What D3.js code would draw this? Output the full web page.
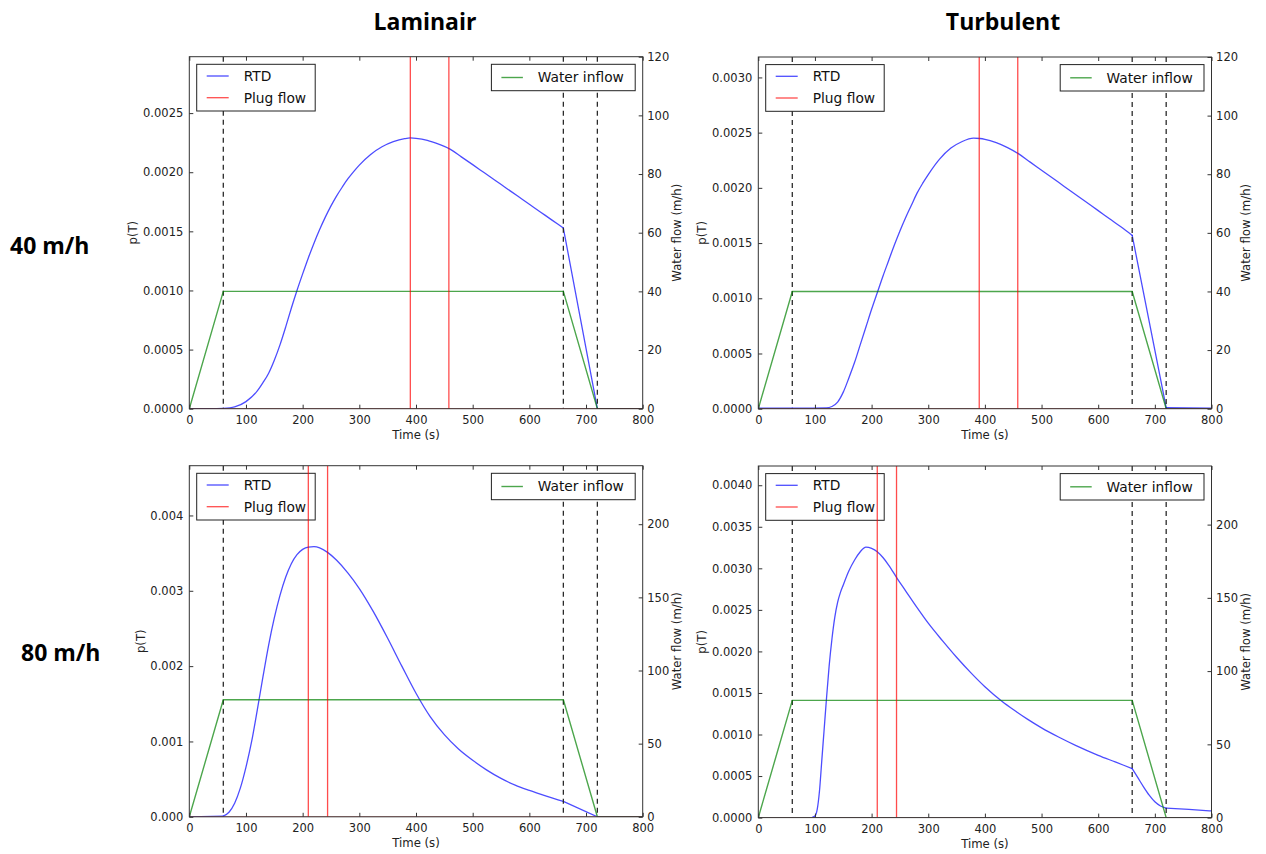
<!DOCTYPE html>
<html><head><meta charset="utf-8">
<script src="https://cdn.jsdelivr.net/npm/d3@7"></script>
<style>body{margin:0;background:#fff} svg{display:block}</style>
</head><body><svg id="c" width="1266" height="854"></svg>
<script>
// ---------------- data ----------------
const colTitles = ["Laminair", "Turbulent"];
const rowLabels = ["40 m/h", "80 m/h"];
const timeTicks = [0, 100, 200, 300, 400, 500, 600, 700, 800];
const eventTimes = [60, 660, 720];
const flowTime = [0, 60, 660, 720, 800];
const flow40 = [0, 40, 40, 0, 0];
const flow80 = [0, 80, 80, 0, 0];
const plug40 = [390, 458];
const plug80 = [210, 244];

const rtdLam40T = [0, 40, 60, 80, 100, 120, 130, 140, 150, 160, 170, 180, 190, 200, 210, 220, 230, 240, 250, 260, 270, 280, 290, 300, 320, 340, 360, 380, 390, 400, 420, 440, 460, 480, 500, 520, 540, 560, 580, 600, 620, 640, 660, 720, 800];
const rtdLam40P = [0, 0, 0.000002, 0.000015, 0.00006, 0.00015, 0.00022, 0.0003, 0.00041, 0.00054, 0.00069, 0.00085, 0.001, 0.00114, 0.001275, 0.0014, 0.001515, 0.00162, 0.001715, 0.0018, 0.001875, 0.001945, 0.002005, 0.00206, 0.00215, 0.002215, 0.002258, 0.002284, 0.00229, 0.002287, 0.00227, 0.002237, 0.002195, 0.00213, 0.002064, 0.001997, 0.00193, 0.001863, 0.001796, 0.001729, 0.001662, 0.001595, 0.001528, 0, 0];

const rtdTurb40T = [0, 60, 120, 130, 140, 150, 160, 170, 180, 190, 200, 210, 220, 230, 240, 250, 260, 270, 280, 290, 300, 320, 340, 360, 380, 391, 400, 420, 440, 459, 480, 500, 520, 540, 560, 580, 600, 620, 640, 660, 720, 800];
const rtdTurb40P = [0.000005, 0.000005, 0.000008, 0.00002, 0.00006, 0.00015, 0.00028, 0.00042, 0.00058, 0.00074, 0.0009, 0.00105, 0.0012, 0.00134, 0.00148, 0.00161, 0.00173, 0.00184, 0.00195, 0.00204, 0.00212, 0.00226, 0.00236, 0.00242, 0.00245, 0.002447, 0.00244, 0.00241, 0.002365, 0.00231, 0.002233, 0.00216, 0.002087, 0.002013, 0.00194, 0.001867, 0.001794, 0.00172, 0.001647, 0.00157, 0.00001, 0.000005];

const rtdLam80T = [0, 60, 70, 80, 90, 100, 110, 120, 130, 140, 150, 160, 170, 180, 190, 200, 210, 220, 230, 244, 260, 280, 300, 325, 350, 375, 400, 425, 450, 475, 500, 525, 550, 575, 600, 630, 660, 720, 800];
const rtdLam80P = [0, 0.00001, 0.00006, 0.00018, 0.00038, 0.00066, 0.001, 0.00142, 0.00186, 0.00228, 0.00264, 0.00294, 0.00318, 0.00336, 0.00348, 0.00355, 0.00358, 0.003585, 0.00357, 0.00351, 0.003405, 0.003235, 0.00303, 0.00272, 0.00237, 0.002, 0.00164, 0.00133, 0.00109, 0.0009, 0.00075, 0.00062, 0.00051, 0.00042, 0.00035, 0.000275, 0.000205, 0, 0];

const rtdTurb80T = [0, 96, 100, 104, 108, 112, 116, 120, 125, 130, 135, 140, 145, 150, 160, 170, 180, 190, 200, 210, 220, 230, 245, 260, 280, 300, 325, 350, 375, 400, 430, 450, 475, 500, 530, 560, 600, 630, 660, 670, 680, 690, 700, 710, 720, 760, 800];
const rtdTurb80P = [0.000005, 0.000005, 0.00002, 0.0001, 0.00032, 0.00068, 0.00104, 0.0014, 0.00182, 0.00215, 0.00241, 0.00259, 0.00271, 0.0028, 0.00297, 0.0031, 0.0032, 0.003255, 0.00324, 0.0032, 0.00313, 0.00304, 0.00288, 0.00273, 0.00253, 0.00234, 0.00213, 0.00193, 0.001745, 0.001575, 0.0014, 0.0013, 0.001185, 0.00108, 0.00097, 0.00087, 0.00075, 0.00067, 0.00059, 0.00048, 0.00037, 0.00027, 0.00019, 0.00014, 0.000115, 0.0001, 0.00008];

const leftTicksLam40 = [0, 0.0005, 0.001, 0.0015, 0.002, 0.0025];
const leftTicksTurb40 = [0, 0.0005, 0.001, 0.0015, 0.002, 0.0025, 0.003];
const leftTicksLam80 = [0, 0.001, 0.002, 0.003, 0.004];
const leftTicksTurb80 = [0, 0.0005, 0.001, 0.0015, 0.002, 0.0025, 0.003, 0.0035, 0.004];
const rightTicks40 = [0, 20, 40, 60, 80, 100, 120];
const rightTicks80 = [0, 50, 100, 150, 200];

// ---------------- layout ----------------
const FONT = "DejaVu Sans";
const C_BLUE = "#0000ff", C_RED = "#ff0000", C_GREEN = "#008000";
const panels = [
  {x0: 189.3, x1: 642.7, y0: 56.7, y1: 408.7, t: rtdLam40T, p: rtdLam40P, flow: flow40, plug: plug40, lt: leftTicksLam40, lf: ".4f", rt: rightTicks40, ylabOff: 57},
  {x0: 758.3, x1: 1211.5, y0: 57, y1: 408.7, t: rtdTurb40T, p: rtdTurb40P, flow: flow40, plug: plug40, lt: leftTicksTurb40, lf: ".4f", rt: rightTicks40, ylabOff: 57},
  {x0: 189.3, x1: 642.7, y0: 465.7, y1: 816.8, t: rtdLam80T, p: rtdLam80P, flow: flow80, plug: plug80, lt: leftTicksLam80, lf: ".3f", rt: rightTicks80, ylabOff: 48.5},
  {x0: 758.3, x1: 1211.5, y0: 466, y1: 817.6, t: rtdTurb80T, p: rtdTurb80P, flow: flow80, plug: plug80, lt: leftTicksTurb80, lf: ".4f", rt: rightTicks80, ylabOff: 57}
];

const svg = d3.select("#c");
svg.append("rect").attr("width", 1266).attr("height", 854).attr("fill", "#fff");

// titles
const titleX = [425, 1003];
colTitles.forEach((s, i) => {
  svg.append("text").attr("x", titleX[i]).attr("y", 30).attr("text-anchor", "middle")
    .attr("font-family", "Open Sans").attr("font-weight", 700).attr("font-size", 23)
    .attr("fill", "#000").text(s);
});
const rowPos = [[10, 254], [21, 661]];
rowLabels.forEach((s, i) => {
  svg.append("text").attr("x", rowPos[i][0]).attr("y", rowPos[i][1])
    .attr("font-family", "Open Sans").attr("font-weight", 700).attr("font-size", 23)
    .attr("fill", "#000").text(s);
});

panels.forEach((P, idx) => {
  const W = P.x1 - P.x0, H = P.y1 - P.y0;
  const g = svg.append("g").attr("transform", `translate(${P.x0},${P.y0})`);
  const x = d3.scaleLinear().domain([0, 800]).range([0, W]);
  const yL = d3.scaleLinear().domain([0, 1.3 * d3.max(P.p)]).range([H, 0]);
  const yR = d3.scaleLinear().domain([0, 3 * d3.max(P.flow)]).range([H, 0]);

  const cid = "clip" + idx;
  g.append("clipPath").attr("id", cid).append("rect").attr("width", W).attr("height", H);
  const plot = g.append("g").attr("clip-path", `url(#${cid})`);

  // RTD, split into pieces at the inflow change times (sharp kinks there)
  const rtd = P.t.map((t, i) => [t, P.p[i]]);
  const bounds = [0, ...eventTimes, 800];
  const pieces = d3.pairs(bounds).map(([a, b]) => rtd.filter(d => d[0] >= a && d[0] <= b)).filter(s => s.length > 1);
  const rtdLine = d3.line().x(d => x(d[0])).y(d => yL(d[1])).curve(d3.curveMonotoneX);
  plot.selectAll("path.rtd").data(pieces).join("path").attr("class", "rtd")
    .attr("d", rtdLine)
    .attr("fill", "none").attr("stroke", C_BLUE).attr("stroke-opacity", 0.7).attr("stroke-width", 1.3)
    .attr("stroke-linejoin", "round").attr("stroke-linecap", "round");

  // dashed event lines
  plot.selectAll("line.ev").data(eventTimes).join("line").attr("class", "ev")
    .attr("x1", d => x(d)).attr("x2", d => x(d)).attr("y1", 0).attr("y2", H)
    .attr("stroke", "#2a2a2a").attr("stroke-width", 1.3).attr("stroke-dasharray", "5,4");

  // legend 1
  const L1 = g.append("g").attr("transform", "translate(7.4,7.6)");
  L1.append("rect").attr("width", 118.5).attr("height", 46.7).attr("fill", "#fff").attr("stroke", "#222").attr("stroke-width", 1);
  [["RTD", C_BLUE, 11.7], ["Plug flow", C_RED, 33.4]].forEach(e => {
    L1.append("line").attr("x1", 10).attr("x2", 32).attr("y1", e[2]).attr("y2", e[2])
      .attr("stroke", e[1]).attr("stroke-opacity", 0.7).attr("stroke-width", 1.3);
    L1.append("text").attr("x", 47).attr("y", e[2]).attr("dy", "0.36em")
      .attr("font-family", FONT).attr("font-size", 13.8).attr("fill", "#111").text(e[0]);
  });

  // water inflow (second axis)
  const fl = flowTime.map((t, i) => [t, P.flow[i]]);
  plot.append("path").datum(fl)
    .attr("d", d3.line().x(d => x(d[0])).y(d => yR(d[1])))
    .attr("fill", "none").attr("stroke", C_GREEN).attr("stroke-opacity", 0.7).attr("stroke-width", 1.4);

  // plug flow
  const top = g.append("g").attr("clip-path", `url(#${cid})`);
  top.append("line").attr("x1", x(0)).attr("x2", x(800)).attr("y1", yL(0)).attr("y2", yL(0))
    .attr("stroke", C_RED).attr("stroke-opacity", 0.55).attr("stroke-width", 1.3);
  top.selectAll("line.pl").data(P.plug).join("line").attr("class", "pl")
    .attr("x1", d => x(d)).attr("x2", d => x(d)).attr("y1", 0).attr("y2", H)
    .attr("stroke", C_RED).attr("stroke-opacity", 0.7).attr("stroke-width", 1.3);

  // legend 2
  const L2 = g.append("g").attr("transform", `translate(${W - 7.5 - 143.8},7.6)`);
  L2.append("rect").attr("width", 143.8).attr("height", 26.4).attr("fill", "#fff").attr("stroke", "#222").attr("stroke-width", 1);
  L2.append("line").attr("x1", 10).attr("x2", 31.5).attr("y1", 13.2).attr("y2", 13.2)
    .attr("stroke", C_GREEN).attr("stroke-opacity", 0.7).attr("stroke-width", 1.4);
  L2.append("text").attr("x", 46.3).attr("y", 13.2).attr("dy", "0.36em")
    .attr("font-family", FONT).attr("font-size", 13.8).attr("fill", "#111").text("Water inflow");

  // frame
  g.append("rect").attr("width", W).attr("height", H).attr("fill", "none").attr("stroke", "#333").attr("stroke-width", 1);

  const styleAxis = a => {
    a.select(".domain").remove();
    a.selectAll(".tick line").attr("stroke", "#333");
    a.selectAll("text").attr("font-family", FONT).attr("font-size", 11.5).attr("fill", "#222");
  };
  g.append("g").attr("transform", `translate(0,${H})`)
    .call(d3.axisBottom(x).tickValues(timeTicks).tickSize(-4).tickPadding(7.3).tickFormat(d3.format("d"))).call(styleAxis);
  g.append("g")
    .call(d3.axisTop(x).tickValues(timeTicks).tickSize(-4).tickFormat("")).call(styleAxis);
  g.append("g")
    .call(d3.axisLeft(yL).tickValues(P.lt).tickSize(-4).tickPadding(6).tickFormat(d3.format(P.lf))).call(styleAxis);
  g.append("g").attr("transform", `translate(${W},0)`)
    .call(d3.axisRight(yR).tickValues(P.rt).tickSize(-4).tickPadding(4.6).tickFormat(d3.format("d"))).call(styleAxis);

  // axis labels
  g.append("text").attr("x", W / 2).attr("y", H + 30.5).attr("text-anchor", "middle")
    .attr("font-family", FONT).attr("font-size", 11.7).attr("fill", "#222").text("Time (s)");
  g.append("text").attr("transform", `translate(${-P.ylabOff},${H / 2}) rotate(-90)`).attr("dy", "0.36em")
    .attr("text-anchor", "middle").attr("font-family", FONT).attr("font-size", 11.7).attr("fill", "#222").text("p(T)");
  g.append("text").attr("transform", `translate(${W + 34.5},${H / 2}) rotate(-90)`).attr("dy", "0.36em")
    .attr("text-anchor", "middle").attr("font-family", FONT).attr("font-size", 11.7).attr("fill", "#222").text("Water flow (m/h)");
});
</script></body></html>
